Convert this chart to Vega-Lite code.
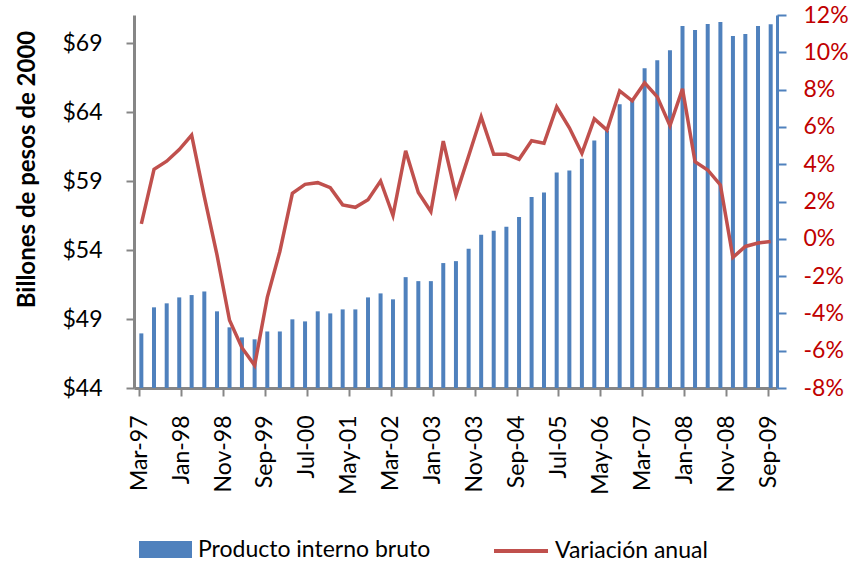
{
  "$schema": "https://vega.github.io/schema/vega-lite/v6.json",
  "width": 643,
  "height": 373,
  "autosize": {"type": "none"},
  "padding": {"left": 134, "top": 15, "right": 78, "bottom": 175},
  "background": "white",
  "config": {"view": {"stroke": null}, "font": "Lato"},
  "data": {"values": [
    {"fecha": "1997-03-18", "pib": 47.96, "var": 0.0080},
    {"fecha": "1997-06-18", "pib": 49.85, "var": 0.0373},
    {"fecha": "1997-09-18", "pib": 50.14, "var": 0.0416},
    {"fecha": "1997-12-18", "pib": 50.57, "var": 0.0478},
    {"fecha": "1998-03-18", "pib": 50.74, "var": 0.0556},
    {"fecha": "1998-06-18", "pib": 51.00, "var": 0.0226},
    {"fecha": "1998-09-18", "pib": 49.56, "var": -0.0086},
    {"fecha": "1998-12-18", "pib": 48.40, "var": -0.0437},
    {"fecha": "1999-03-18", "pib": 47.67, "var": -0.0584},
    {"fecha": "1999-06-18", "pib": 47.53, "var": -0.0679},
    {"fecha": "1999-09-18", "pib": 48.10, "var": -0.0314},
    {"fecha": "1999-12-18", "pib": 48.10, "var": -0.0068},
    {"fecha": "2000-03-18", "pib": 48.98, "var": 0.0244},
    {"fecha": "2000-06-18", "pib": 48.83, "var": 0.0292},
    {"fecha": "2000-09-18", "pib": 49.56, "var": 0.0301},
    {"fecha": "2000-12-18", "pib": 49.41, "var": 0.0274},
    {"fecha": "2001-03-18", "pib": 49.70, "var": 0.0182},
    {"fecha": "2001-06-18", "pib": 49.70, "var": 0.0169},
    {"fecha": "2001-09-18", "pib": 50.57, "var": 0.0210},
    {"fecha": "2001-12-18", "pib": 50.86, "var": 0.0310},
    {"fecha": "2002-03-18", "pib": 50.43, "var": 0.0125},
    {"fecha": "2002-06-18", "pib": 52.04, "var": 0.0472},
    {"fecha": "2002-09-18", "pib": 51.75, "var": 0.0248},
    {"fecha": "2002-12-18", "pib": 51.75, "var": 0.0146},
    {"fecha": "2003-03-18", "pib": 53.06, "var": 0.0524},
    {"fecha": "2003-06-18", "pib": 53.20, "var": 0.0234},
    {"fecha": "2003-09-18", "pib": 54.09, "var": 0.0444},
    {"fecha": "2003-12-18", "pib": 55.11, "var": 0.0654},
    {"fecha": "2004-03-18", "pib": 55.40, "var": 0.0453},
    {"fecha": "2004-06-18", "pib": 55.69, "var": 0.0453},
    {"fecha": "2004-09-18", "pib": 56.41, "var": 0.0426},
    {"fecha": "2004-12-18", "pib": 57.86, "var": 0.0526},
    {"fecha": "2005-03-18", "pib": 58.18, "var": 0.0512},
    {"fecha": "2005-06-18", "pib": 59.63, "var": 0.0707},
    {"fecha": "2005-09-18", "pib": 59.77, "var": 0.0595},
    {"fecha": "2005-12-18", "pib": 60.62, "var": 0.0458},
    {"fecha": "2006-03-18", "pib": 61.95, "var": 0.0643},
    {"fecha": "2006-06-18", "pib": 62.65, "var": 0.0583},
    {"fecha": "2006-09-18", "pib": 64.58, "var": 0.0793},
    {"fecha": "2006-12-18", "pib": 64.90, "var": 0.0740},
    {"fecha": "2007-03-18", "pib": 67.19, "var": 0.0836},
    {"fecha": "2007-06-18", "pib": 67.77, "var": 0.0761},
    {"fecha": "2007-09-18", "pib": 68.49, "var": 0.0606},
    {"fecha": "2007-12-18", "pib": 70.25, "var": 0.0804},
    {"fecha": "2008-03-18", "pib": 69.96, "var": 0.0413},
    {"fecha": "2008-06-18", "pib": 70.40, "var": 0.0369},
    {"fecha": "2008-09-18", "pib": 70.54, "var": 0.0289},
    {"fecha": "2008-12-18", "pib": 69.53, "var": -0.0100},
    {"fecha": "2009-03-18", "pib": 69.67, "var": -0.0041},
    {"fecha": "2009-06-18", "pib": 70.25, "var": -0.0023},
    {"fecha": "2009-09-18", "pib": 70.38, "var": -0.0014}
  ]},
  "encoding": {
    "x": {
      "field": "fecha",
      "type": "temporal",
      "scale": {
        "type": "utc",
        "domain": [
          {"year": 1997, "month": 3, "date": 1, "utc": true},
          {"year": 2009, "month": 9, "date": 27, "hours": 12, "utc": true}
        ]
      },
      "axis": {
        "values": [
          {"year": 1997, "month": 3, "date": 1, "utc": true},
          {"year": 1998, "month": 1, "date": 1, "utc": true},
          {"year": 1998, "month": 11, "date": 1, "utc": true},
          {"year": 1999, "month": 9, "date": 1, "utc": true},
          {"year": 2000, "month": 7, "date": 1, "utc": true},
          {"year": 2001, "month": 5, "date": 1, "utc": true},
          {"year": 2002, "month": 3, "date": 1, "utc": true},
          {"year": 2003, "month": 1, "date": 1, "utc": true},
          {"year": 2003, "month": 11, "date": 1, "utc": true},
          {"year": 2004, "month": 9, "date": 1, "utc": true},
          {"year": 2005, "month": 7, "date": 1, "utc": true},
          {"year": 2006, "month": 5, "date": 1, "utc": true},
          {"year": 2007, "month": 3, "date": 1, "utc": true},
          {"year": 2008, "month": 1, "date": 1, "utc": true},
          {"year": 2008, "month": 11, "date": 1, "utc": true},
          {"year": 2009, "month": 9, "date": 1, "utc": true}
        ],
        "labelExpr": "utcFormat(datum.value, '%b-%y')",
        "labelAngle": -90,
        "labelFontSize": 23,
        "labelColor": "#000000",
        "labelPadding": 19,
        "labelFlush": false,
        "labelOverlap": false,
        "labelBound": false,
        "tickSize": 8,
        "tickWidth": 2,
        "tickColor": "#868686",
        "domainColor": "#868686",
        "domainWidth": 3,
        "grid": false,
        "title": null
      }
    }
  },
  "layer": [
    {
      "mark": {"type": "bar", "width": 4},
      "encoding": {
        "y": {
          "field": "pib",
          "type": "quantitative",
          "scale": {"domain": [44, 71.05], "nice": false, "zero": false},
          "axis": {
            "orient": "left",
            "values": [44, 49, 54, 59, 64, 69],
            "labelExpr": "'$' + datum.value",
            "labelFontSize": 23,
            "labelColor": "#000000",
            "labelPadding": 24,
            "tickSize": 8,
            "tickWidth": 2,
            "tickColor": "#868686",
            "domainColor": "#868686",
            "domainWidth": 3,
            "grid": false,
            "title": "Billones de pesos de 2000",
            "titleFontSize": 24,
            "titleFontWeight": "bold",
            "titleColor": "#000000",
            "titleAngle": -90,
            "titleX": -107,
            "titleY": 154,
            "titleAlign": "center",
            "titleBaseline": "middle"
          }
        },
        "y2": {"datum": 44},
        "color": {
          "datum": "Producto interno bruto",
          "scale": {"range": ["#4F81BD"]},
          "legend": {
            "orient": "none",
            "legendX": 5,
            "legendY": 508,
            "title": null,
            "padding": 0,
            "symbolType": "M-1,-0.32H1V0.32H-1Z",
            "symbolSize": 2809,
            "symbolStrokeWidth": 0,
            "symbolOpacity": 1,
            "labelFontSize": 23,
            "labelLimit": 500,
            "labelColor": "#000000",
            "labelOffset": 6
          }
        }
      }
    },
    {
      "mark": {"type": "line", "strokeWidth": 3.5},
      "encoding": {
        "y": {
          "field": "var",
          "type": "quantitative",
          "scale": {"domain": [-0.08, 0.12], "nice": false, "zero": false},
          "axis": {
            "orient": "right",
            "values": [-0.08, -0.06, -0.04, -0.02, 0, 0.02, 0.04, 0.06, 0.08, 0.1, 0.12],
            "labelExpr": "replace(format(datum.value, '.0%'), '\u2212', '-')",
            "labelFontSize": 23,
            "labelColor": "#C00000",
            "labelPadding": 17,
            "tickSize": 9,
            "tickWidth": 2,
            "tickColor": "#4F81BD",
            "domainColor": "#4F81BD",
            "domainWidth": 3,
            "grid": false,
            "title": null
          }
        },
        "stroke": {
          "datum": "Variación anual",
          "scale": {"range": ["#C0504D"]},
          "legend": {
            "orient": "none",
            "legendX": 358,
            "legendY": 507,
            "title": null,
            "padding": 0,
            "symbolType": "stroke",
            "symbolSize": 2916,
            "symbolStrokeWidth": 4,
            "labelFontSize": 23,
            "labelLimit": 500,
            "labelColor": "#000000",
            "labelOffset": 5
          }
        }
      }
    }
  ],
  "resolve": {"scale": {"y": "independent"}}
}
